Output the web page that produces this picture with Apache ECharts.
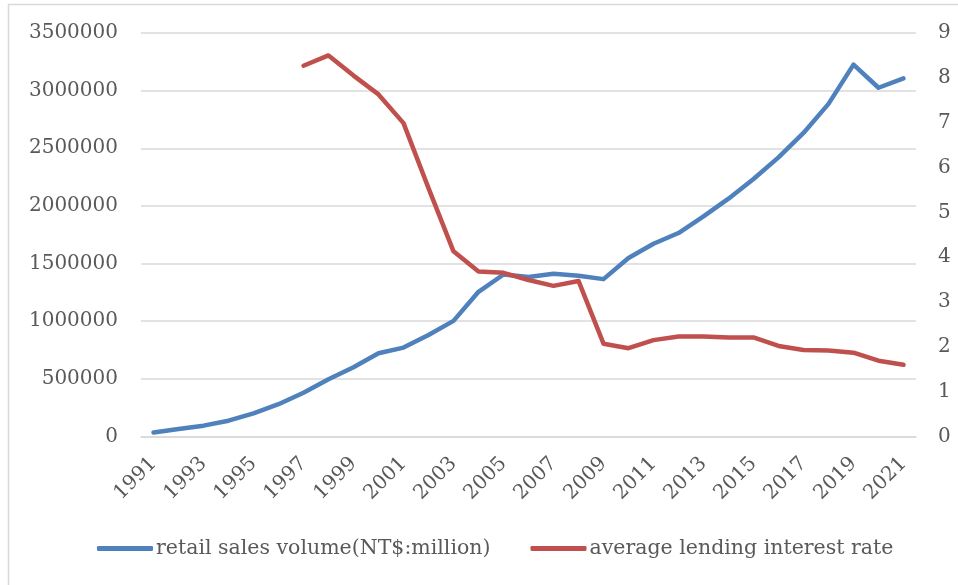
<!DOCTYPE html>
<html>
<head>
<meta charset="utf-8">
<script src="https://cdn.jsdelivr.net/npm/echarts@6/dist/echarts.min.js"></script>
<style>
  html, body { margin: 0; padding: 0; background: #fff; }
  #chart { width: 958px; height: 585px; }
</style>
</head>
<body>
<div id="chart"></div>
<script>
// Years on the category axis
const years = [];
for (let y = 1991; y <= 2021; y++) years.push(String(y));

// Retail sales volume, NT$ million
const retailSales = [
  35000, 65000, 94000, 137000, 201000, 280000, 380000, 497000, 601000, 722000,
  771000, 881000, 1003000, 1255000, 1405000, 1383000, 1411000, 1394000, 1365000, 1548000,
  1672000, 1765000, 1909000, 2063000, 2234000, 2421000, 2633000, 2885000, 3226000, 3025000,
  3106000
];

// Average lending interest rate, % (series starts in 1997)
const lendingRate = [
  null, null, null, null, null, null, 8.27, 8.50, 8.05, 7.63,
  6.99, 5.54, 4.13, 3.68, 3.65, 3.49, 3.36, 3.47, 2.07, 1.97,
  2.15, 2.23, 2.23, 2.21, 2.21, 2.02, 1.93, 1.92, 1.87, 1.69,
  1.60
];

const seriesNames = ['retail sales volume(NT$:million)', 'average lending interest rate'];

const font = 'DejaVu Serif';
const textColor = '#595959';
const gridColor = '#D9D9D9';

const chart = echarts.init(document.getElementById('chart'), null, { renderer: 'canvas' });
chart.setOption({
  animation: false,
  backgroundColor: '#ffffff',
  graphic: [{
    type: 'rect',
    shape: { x: 8.5, y: 4.5, width: 1000, height: 1000 },
    style: { fill: 'none', stroke: gridColor, lineWidth: 1.5 },
    silent: true
  }],
  grid: { left: 141, right: 42, top: 33, bottom: 148.5 },
  legend: {
    left: 97,
    top: 538,
    padding: 0,
    itemWidth: 56,
    itemHeight: 5,
    itemGap: 40,
    icon: 'roundRect',
    textStyle: { fontFamily: font, fontSize: 20.5, color: textColor, padding: [0, 0, 0, -2] },
    data: seriesNames
  },
  xAxis: {
    type: 'category',
    data: years,
    boundaryGap: true,
    axisLine: { lineStyle: { color: gridColor, width: 1.5 } },
    axisTick: { show: false },
    axisLabel: {
      interval: 1,
      rotate: 45,
      margin: 24,
      fontFamily: font,
      fontSize: 20,
      color: textColor
    }
  },
  yAxis: [{
    type: 'value',
    min: 0, max: 3500000, interval: 500000,
    axisLine: { show: false },
    axisTick: { show: false },
    splitLine: { lineStyle: { color: gridColor, width: 1.5 } },
    axisLabel: {
      margin: 23, fontFamily: font, fontSize: 20, color: textColor,
      formatter: v => String(v)
    }
  }, {
    type: 'value',
    min: 0, max: 9, interval: 1,
    position: 'right',
    axisLine: { show: false },
    axisTick: { show: false },
    splitLine: { show: false },
    axisLabel: { margin: 22, fontFamily: font, fontSize: 20, color: textColor }
  }],
  series: [{
    name: seriesNames[0],
    type: 'line',
    yAxisIndex: 0,
    data: retailSales,
    showSymbol: false,
    symbol: 'none',
    itemStyle: { color: '#4F81BD' },
    lineStyle: { color: '#4F81BD', width: 4.5, cap: 'round', join: 'round' }
  }, {
    name: seriesNames[1],
    type: 'line',
    yAxisIndex: 1,
    data: lendingRate,
    showSymbol: false,
    symbol: 'none',
    itemStyle: { color: '#C0504D' },
    lineStyle: { color: '#C0504D', width: 4.5, cap: 'round', join: 'round' }
  }]
});
</script>
</body>
</html>
